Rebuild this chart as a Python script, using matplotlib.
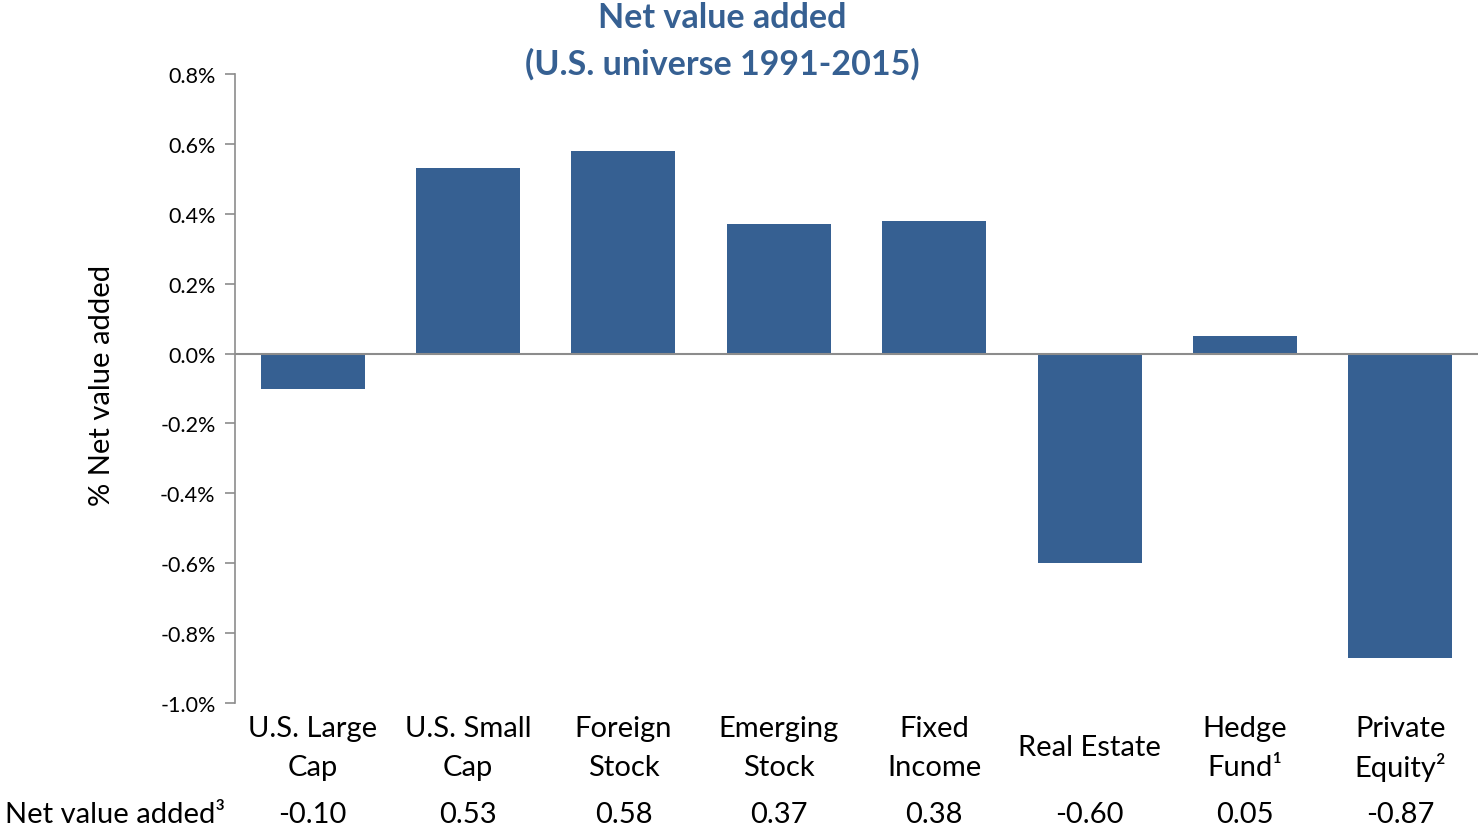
import matplotlib.pyplot as plt
from matplotlib.ticker import FuncFormatter

plt.rcParams["font.family"] = ["Lato", "DejaVu Sans"]

categories = ["U.S. Large\nCap", "U.S. Small\nCap", "Foreign\nStock", "Emerging\nStock",
              "Fixed\nIncome", "Real Estate", "Hedge\nFund\u00b9", "Private\nEquity\u00b2"]
values = [-0.10, 0.53, 0.58, 0.37, 0.38, -0.60, 0.05, -0.87]
value_labels = ["-0.10", "0.53", "0.58", "0.37", "0.38", "-0.60", "0.05", "-0.87"]
yticks = [-1.0, -0.8, -0.6, -0.4, -0.2, 0.0, 0.2, 0.4, 0.6, 0.8]

BAR_COLOR = "#366092"
AXIS_COLOR = "#8c8c8c"

W, H = 1480, 829
fig = plt.figure(figsize=(W / 100, H / 100), dpi=100)
ax = fig.add_axes([235 / W, 1 - 704 / H, (1478 - 235) / W, (704 - 75) / H])

x = list(range(len(categories)))
ax.bar(x, values, width=0.67, color=BAR_COLOR, zorder=2)
ax.axhline(0, color=AXIS_COLOR, lw=1.5, zorder=3)

ax.set_xlim(-0.5, len(categories) - 0.5)
ax.set_ylim(-1.0, 0.8)
ax.set_yticks(yticks)
ax.yaxis.set_major_formatter(FuncFormatter(lambda v, _: f"{v:.1f}%"))
ax.tick_params(axis="y", labelsize=15.5, length=7, width=1.2, color=AXIS_COLOR, pad=7)
ax.set_xticks([])

for side in ("top", "right", "bottom"):
    ax.spines[side].set_visible(False)
ax.spines["left"].set_color(AXIS_COLOR)
ax.spines["left"].set_linewidth(1.2)

fig.text(102 / W, 1 - 385 / H, "% Net value added", rotation=90, ha="center",
         va="center", fontsize=21)

fig.text(722 / W, 1 - 18 / H, "Net value added", ha="center", va="center",
         fontsize=24.5, fontweight="bold", color=BAR_COLOR)
fig.text(722 / W, 1 - 64 / H, "(U.S. universe 1991-2015)", ha="center", va="center",
         fontsize=24.5, fontweight="bold", color=BAR_COLOR)

# category labels: lines placed individually, 39 px apart, centred on y=746 px
row_y = 1 - 813 / H
fig.text(5 / W, row_y, "Net value added\u00b3", ha="left", va="center_baseline", fontsize=21)
for xi, cat, lab in zip(x, categories, value_labels):
    fx = fig.transFigure.inverted().transform(ax.transData.transform((xi, 0)))[0]
    lines = cat.split("\n")
    n = len(lines)
    for k, line in enumerate(lines):
        py = 746 + (k - (n - 1) / 2) * 39
        fig.text(fx, 1 - py / H, line, ha="center", va="center_baseline", fontsize=21)
    fig.text(fx, row_y, lab, ha="center", va="center_baseline", fontsize=21)

fig.savefig("out.png", dpi=100)
